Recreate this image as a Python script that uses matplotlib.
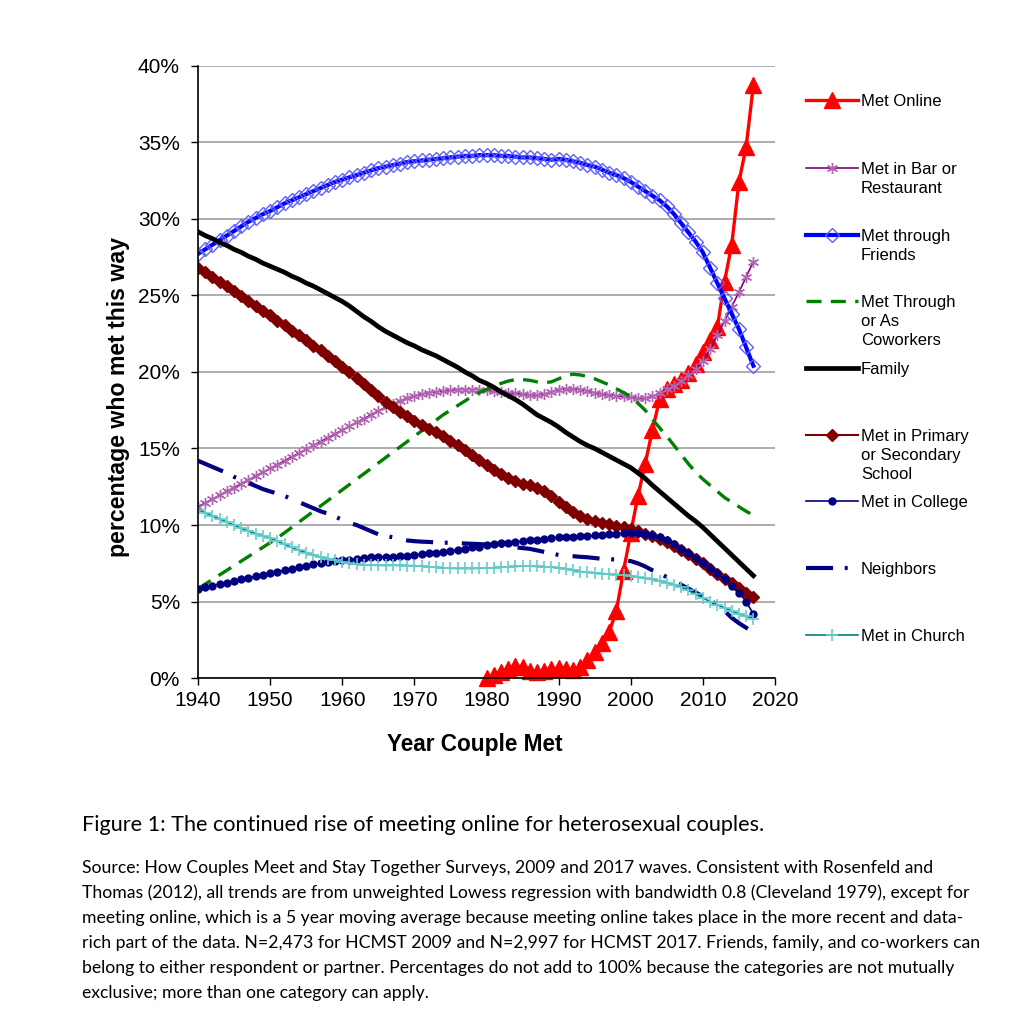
import numpy as np
import matplotlib.pyplot as plt
from matplotlib.lines import Line2D

# datos (porcentaje por año en que se conocio la pareja)
years = list(range(1940, 2018))
online_years = list(range(1980, 2018))

met_online = [0.0, 0.2, 0.4, 0.6, 0.8, 0.75, 0.5, 0.4, 0.5, 0.6,
              0.65, 0.6, 0.55, 0.75, 1.2, 1.7, 2.3, 3.0, 4.4, 7.0,
              9.5, 11.9, 14.0, 16.2, 18.2, 18.9, 19.2, 19.5, 19.9, 20.5,
              21.3, 22.1, 22.9, 25.9, 28.3, 32.4, 34.7, 38.7]

bar_restaurant = [11.2, 11.45, 11.7, 11.95, 12.2, 12.45, 12.7, 12.95, 13.2, 13.45,
                  13.7, 13.95, 14.2, 14.45, 14.7, 14.95, 15.2, 15.45, 15.7, 15.95,
                  16.2, 16.45, 16.7, 16.95, 17.2, 17.45, 17.7, 17.9, 18.1, 18.3,
                  18.45, 18.55, 18.65, 18.7, 18.75, 18.8, 18.85, 18.85, 18.85, 18.85,
                  18.8, 18.75, 18.7, 18.65, 18.6, 18.55, 18.5, 18.5, 18.55, 18.7,
                  18.85, 18.9, 18.9, 18.85, 18.75, 18.65, 18.55, 18.5, 18.45, 18.4,
                  18.35, 18.3, 18.3, 18.4, 18.6, 18.9, 19.1, 19.4, 19.8, 20.2,
                  20.7, 21.5, 22.4, 23.3, 24.25, 25.2, 26.2, 27.2]

friends = [27.7, 28.0, 28.3, 28.6, 28.9, 29.2, 29.5, 29.8, 30.05, 30.3,
           30.5, 30.75, 31.0, 31.2, 31.4, 31.6, 31.8, 32.0, 32.2, 32.4,
           32.55, 32.7, 32.85, 33.0, 33.15, 33.3, 33.4, 33.5, 33.6, 33.7,
           33.75, 33.8, 33.85, 33.9, 33.95, 34.0, 34.05, 34.1, 34.1, 34.15,
           34.15, 34.15, 34.1, 34.1, 34.05, 34.0, 34.0, 33.95, 33.9, 33.85,
           33.9, 33.85, 33.75, 33.65, 33.5, 33.4, 33.2, 33.0, 32.85, 32.65,
           32.4, 32.1, 31.8, 31.5, 31.2, 30.8, 30.3, 29.7, 29.1, 28.5,
           27.8, 26.8, 25.8, 24.8, 23.8, 22.8, 21.6, 20.4]

coworkers = [5.85, 6.15, 6.45, 6.75, 7.05, 7.35, 7.65, 7.95, 8.25, 8.55,
             8.85, 9.15, 9.5, 9.85, 10.2, 10.55, 10.9, 11.25, 11.6, 11.95,
             12.3, 12.65, 13.0, 13.35, 13.7, 14.05, 14.4, 14.75, 15.1, 15.45,
             15.8, 16.15, 16.5, 16.85, 17.2, 17.5, 17.8, 18.1, 18.4, 18.65,
             18.85, 19.05, 19.25, 19.4, 19.5, 19.5, 19.45, 19.35, 19.3, 19.35,
             19.55, 19.75, 19.85, 19.8, 19.7, 19.55, 19.35, 19.15, 18.9, 18.65,
             18.4, 17.95, 17.5, 16.9, 16.35, 15.8, 15.2, 14.6, 14.0, 13.45,
             13.0, 12.6, 12.2, 11.8, 11.5, 11.2, 10.9, 10.65]

family = [29.15, 28.9, 28.7, 28.45, 28.25, 28.0, 27.8, 27.55, 27.35, 27.1,
          26.9, 26.7, 26.5, 26.25, 26.05, 25.8, 25.6, 25.35, 25.1, 24.85,
          24.6, 24.3, 23.95, 23.6, 23.3, 22.95, 22.65, 22.4, 22.15, 21.9,
          21.7, 21.45, 21.25, 21.05, 20.8, 20.55, 20.3, 20.0, 19.75, 19.45,
          19.25, 19.0, 18.7, 18.45, 18.2, 17.9, 17.55, 17.2, 16.95, 16.7,
          16.4, 16.05, 15.75, 15.45, 15.2, 15.0, 14.75, 14.5, 14.25, 14.0,
          13.75, 13.4, 13.05, 12.6, 12.2, 11.8, 11.4, 11.0, 10.6, 10.25,
          9.85, 9.4, 8.95, 8.5, 8.05, 7.6, 7.15, 6.7]

school = [26.8, 26.5, 26.2, 25.9, 25.6, 25.3, 24.95, 24.65, 24.3, 24.0,
          23.7, 23.35, 23.05, 22.7, 22.4, 22.05, 21.7, 21.4, 21.05, 20.7,
          20.35, 20.0, 19.6, 19.2, 18.8, 18.4, 18.05, 17.7, 17.4, 17.1,
          16.8, 16.55, 16.3, 16.05, 15.8, 15.5, 15.2, 14.9, 14.55, 14.25,
          13.9, 13.6, 13.35, 13.1, 12.9, 12.7, 12.6, 12.45, 12.25, 11.9,
          11.5, 11.15, 10.85, 10.6, 10.4, 10.25, 10.15, 10.05, 9.95, 9.85,
          9.75, 9.6, 9.45, 9.3, 9.1, 8.9, 8.65, 8.4, 8.1, 7.8,
          7.5, 7.15, 6.8, 6.5, 6.2, 5.9, 5.6, 5.3]

college = [5.8, 5.95, 6.05, 6.15, 6.25, 6.35, 6.45, 6.55, 6.65, 6.75,
           6.85, 6.95, 7.05, 7.15, 7.25, 7.35, 7.45, 7.5, 7.6, 7.65,
           7.7, 7.75, 7.8, 7.85, 7.9, 7.9, 7.95, 7.95, 8.0, 8.0,
           8.05, 8.1, 8.15, 8.2, 8.25, 8.3, 8.4, 8.45, 8.55, 8.6,
           8.7, 8.75, 8.8, 8.85, 8.9, 8.95, 9.0, 9.05, 9.1, 9.15,
           9.2, 9.22, 9.25, 9.28, 9.3, 9.33, 9.36, 9.4, 9.43, 9.46,
           9.5, 9.5, 9.45, 9.35, 9.2, 9.0, 8.75, 8.45, 8.15, 7.85,
           7.55, 7.2, 6.85, 6.45, 6.05, 5.6, 5.0, 4.2]

neighbors = [14.2, 14.0, 13.8, 13.6, 13.4, 13.15, 12.95, 12.75, 12.55, 12.35,
             12.2, 12.05, 11.9, 11.7, 11.5, 11.3, 11.1, 10.9, 10.75, 10.55,
             10.35, 10.15, 10.0, 9.8, 9.6, 9.4, 9.3, 9.2, 9.1, 9.0,
             8.95, 8.92, 8.9, 8.87, 8.85, 8.85, 8.83, 8.8, 8.78, 8.76,
             8.73, 8.7, 8.65, 8.6, 8.55, 8.5, 8.45, 8.35, 8.25, 8.15,
             8.05, 8.0, 7.97, 7.93, 7.9, 7.85, 7.8, 7.78, 7.75, 7.72,
             7.65, 7.5, 7.3, 7.05, 6.85, 6.6, 6.35, 6.1, 5.85, 5.6,
             5.35, 5.1, 4.8, 4.4, 3.95, 3.6, 3.3, 3.0]

church = [11.0, 10.8, 10.6, 10.4, 10.2, 10.0, 9.8, 9.6, 9.45, 9.3,
          9.15, 8.95, 8.75, 8.55, 8.35, 8.2, 8.05, 7.9, 7.8, 7.7,
          7.6, 7.52, 7.45, 7.4, 7.38, 7.37, 7.37, 7.37, 7.37, 7.36,
          7.35, 7.32, 7.28, 7.24, 7.2, 7.18, 7.17, 7.17, 7.17, 7.18,
          7.2, 7.22, 7.25, 7.28, 7.3, 7.32, 7.32, 7.3, 7.28, 7.26,
          7.22, 7.15, 7.05, 6.97, 6.92, 6.88, 6.84, 6.8, 6.77, 6.73,
          6.68, 6.6, 6.52, 6.45, 6.35, 6.25, 6.1, 5.95, 5.75, 5.5,
          5.25, 5.0, 4.8, 4.6, 4.4, 4.2, 4.05, 3.9]

labels = ['Met Online', 'Met in Bar or\nRestaurant', 'Met through\nFriends',
          'Met Through\nor As\nCoworkers', 'Family', 'Met in Primary\nor Secondary\nSchool',
          'Met in College', 'Neighbors', 'Met in Church']

plt.rcParams['font.family'] = ['Liberation Sans', 'DejaVu Sans']

W, H = 1010, 1028
fig = plt.figure(figsize=(W / 100, H / 100), dpi=100)
ax = fig.add_axes([198 / W, 1 - 678.3 / H, (775 - 198) / W, (678.3 - 65.5) / H])

# estilos de cada serie (mismo orden que la leyenda)
estilos = [
    dict(color='#FF0000', lw=2.4, marker='^', ms=11, mfc='#FF0000', mec='#FF0000', clip_on=False),
    dict(color='#800080', lw=1.2, marker=(6, 2, 0), ms=8, mec='#B266B2', mew=1.0),
    dict(color='#0000FF', lw=3.0, marker='D', ms=7.5, mfc='none', mec='#6060FF', mew=1.0),
    dict(color='#008000', lw=2.4, ls=(0, (4.5, 2.8))),
    dict(color='#000000', lw=3.4),
    dict(color='#7F0000', lw=1.5, marker='D', ms=6.5, mfc='#7F0000', mec='#7F0000'),
    dict(color='#000080', lw=1.2, marker='o', ms=5, mfc='#000080', mec='#000080'),
    dict(color='#000080', lw=3.0, ls=(0, (6.5, 2.8, 0.7, 3.4))),
    dict(color='#008080', lw=1.2, marker='+', ms=9, mec='#66CCCC', mew=1.2),
]

series = [(online_years, met_online), (years, bar_restaurant), (years, friends),
          (years, coworkers), (years, family), (years, school), (years, college),
          (years, neighbors), (years, church)]

for (xx, yy), st in zip(series, estilos):
    ax.plot(xx, yy, **st)

ax.set_xlim(1940, 2020)
ax.set_ylim(0, 40)
ax.set_xticks(range(1940, 2021, 10))
ax.set_yticks(range(0, 41, 5))
ax.set_yticklabels([f'{v}%' for v in range(0, 41, 5)])
ax.tick_params(labelsize=15, length=5, width=1, colors='#000000')
ax.tick_params(axis='y', pad=8)
ax.tick_params(axis='x', pad=4)
ax.yaxis.grid(True, color='#A0A0A0', lw=1.2)
ax.set_axisbelow(True)
for s in ['top', 'right']:
    ax.spines[s].set_visible(False)
for s in ['left', 'bottom']:
    ax.spines[s].set_linewidth(1.2)

fig.text(118 / W, 1 - 397 / H, 'percentage who met this way', rotation=90,
         ha='center', va='center', fontsize=16.7, fontweight='bold')
fig.text(475 / W, 1 - 745 / H, 'Year Couple Met', ha='center', va='center',
         fontsize=16.3, fontweight='bold')

# leyenda dibujada a mano (el manejador se alinea con la primera linea)
lax = fig.add_axes([800 / W, 1 - 680 / H, 200 / W, 615 / H])
lax.set_xlim(800, 1000)
lax.set_ylim(680, 65)
lax.axis('off')
leg_y = [100, 168, 235, 301, 368, 435, 501, 568, 635]
for yl, lab, st in zip(leg_y, labels, estilos):
    st2 = {k: v for k, v in st.items() if k not in ('marker', 'clip_on')}
    lax.add_line(Line2D([806, 858], [yl, yl], **st2))
    if 'marker' in st:
        lax.add_line(Line2D([832], [yl], ls='none', marker=st['marker'], ms=st.get('ms'),
                            mfc=st.get('mfc', st['color']), mec=st.get('mec', st['color']),
                            mew=st.get('mew', 1.0)))
    lax.text(861, yl - 6, lab, ha='left', va='top', fontsize=12, linespacing=1.35)

# pie de figura
cap_font = ['Lato', 'DejaVu Sans']
fig.text(82 / W, 1 - 825 / H,
         'Figure 1: The continued rise of meeting online for heterosexual couples.',
         ha='left', va='center', fontsize=15.6, family=cap_font)
source_lines = [
    'Source: How Couples Meet and Stay Together Surveys, 2009 and 2017 waves. Consistent with Rosenfeld and',
    'Thomas (2012), all trends are from unweighted Lowess regression with bandwidth 0.8 (Cleveland 1979), except for',
    'meeting online, which is a 5 year moving average because meeting online takes place in the more recent and data-',
    'rich part of the data. N=2,473 for HCMST 2009 and N=2,997 for HCMST 2017. Friends, family, and co-workers can',
    'belong to either respondent or partner. Percentages do not add to 100% because the categories are not mutually',
    'exclusive; more than one category can apply.',
]
for i, line in enumerate(source_lines):
    fig.text(82 / W, 1 - (868 + 25 * i) / H, line, ha='left', va='center',
             fontsize=12.7, family=cap_font)

fig.savefig('out.png', dpi=100)
